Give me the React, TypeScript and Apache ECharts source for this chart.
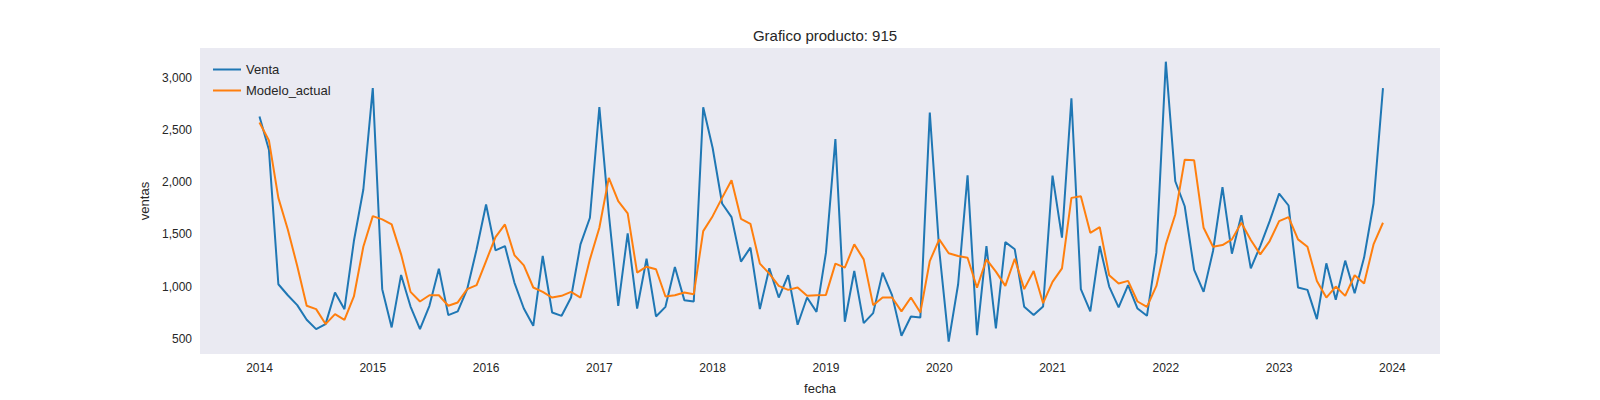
import { useEffect, useRef } from "react";
import * as echarts from "echarts";

const startYear = 2014;
const yearTicks = [2014, 2015, 2016, 2017, 2018, 2019, 2020, 2021, 2022, 2023, 2024];
const ventasTicks = [500, 1000, 1500, 2000, 2500, 3000];

// monthly values, Jan 2014 .. Dec 2023
const venta = [
  2628, 2311, 1024, 919, 824, 684, 595, 643, 945, 786, 1437, 1930,
  2899, 977, 611, 1113, 811, 595, 818, 1173, 729, 764, 977, 1358,
  1787, 1348, 1389, 1040, 792, 627, 1294, 754, 722, 897, 1405, 1660,
  2717, 1700, 818, 1510, 792, 1268, 716, 808, 1189, 872, 859, 2717,
  2327, 1796, 1666, 1240, 1374, 786, 1176, 897, 1110, 637, 897, 760,
  1326, 2412, 665, 1151, 652, 748, 1135, 920, 532, 716, 706, 2666,
  1350, 475, 1024, 2065, 538, 1389, 602, 1427, 1358, 808, 729, 811,
  2063, 1469, 2803, 977, 764, 1389, 1002, 802, 1015, 792, 722, 1326,
  3152, 2009, 1770, 1161, 951, 1342, 1952, 1316, 1685, 1176, 1389, 1627,
  1891, 1777, 993, 970, 690, 1224, 875, 1250, 938, 1279, 1796, 2899,
];

const modeloActual = [
  2571, 2399, 1850, 1548, 1199, 818, 786, 643, 738, 684, 907, 1383,
  1675, 1644, 1596, 1310, 951, 859, 919, 919, 818, 850, 977, 1015,
  1246, 1475, 1596, 1303, 1205, 993, 951, 897, 913, 951, 897, 1262,
  1564, 2041, 1818, 1701, 1135, 1192, 1167, 907, 919, 945, 929, 1532,
  1675, 1850, 2019, 1650, 1602, 1221, 1126, 1008, 970, 993, 913, 919,
  922, 1221, 1183, 1405, 1262, 824, 897, 897, 764, 897, 754, 1246,
  1453, 1320, 1294, 1278, 990, 1262, 1145, 1008, 1268, 977, 1151, 843,
  1046, 1176, 1850, 1866, 1516, 1570, 1110, 1031, 1056, 859, 808, 1008,
  1405, 1691, 2215, 2209, 1564, 1383, 1399, 1453, 1612, 1447, 1310, 1437,
  1627, 1666, 1453, 1383, 1056, 897, 1002, 913, 1110, 1031, 1405, 1612,
];

const toPoints = (vals: number[]) => vals.map((v, i) => [startYear + i / 12, v]);

function App() {
  const chartRef = useRef<HTMLDivElement>(null);

  useEffect(() => {
    document.body.style.margin = "0";
    const chart = echarts.init(chartRef.current, null, { renderer: "svg" });
    const font = "Liberation Sans, Arial, sans-serif";
    const textColor = "#262626";

    chart.setOption({
      animation: false,
      backgroundColor: "#ffffff",
      textStyle: { fontFamily: font },
      title: {
        text: "Grafico producto: 915",
        left: 820,
        textAlign: "center",
        top: 23,
        textStyle: { fontSize: 15, fontWeight: "normal", color: textColor, fontFamily: font },
      },
      legend: {
        orient: "vertical",
        left: 208,
        top: 58,
        itemGap: 8,
        itemWidth: 28,
        itemHeight: 2,
        icon: "rect",
        textStyle: { fontSize: 13, color: textColor, fontFamily: font },
        data: ["Venta", "Modelo_actual"],
      },
      grid: {
        left: 200,
        right: 160,
        top: 48,
        bottom: 44,
        show: true,
        backgroundColor: "#eaeaf2",
        borderWidth: 0,
      },
      xAxis: {
        type: "value",
        min: 2013.475,
        max: 2024.42,
        name: "fecha",
        nameLocation: "middle",
        nameGap: 28,
        nameTextStyle: { fontSize: 13, color: textColor },
        axisLine: { show: false },
        axisTick: { show: false, customValues: yearTicks },
        splitLine: { show: false },
        axisLabel: {
          customValues: yearTicks,
          fontSize: 12,
          color: textColor,
          margin: 8,
          formatter: (v: number) => String(Math.round(v)),
        },
      },
      yAxis: {
        type: "value",
        min: 357,
        max: 3283,
        name: "ventas",
        nameLocation: "middle",
        nameGap: 45,
        nameTextStyle: { fontSize: 13, color: textColor },
        axisLine: { show: false },
        axisTick: { show: false, customValues: ventasTicks },
        splitLine: { show: false },
        axisLabel: { customValues: ventasTicks, fontSize: 12, color: textColor, margin: 8 },
      },
      series: [
        {
          name: "Venta",
          type: "line",
          data: toPoints(venta),
          showSymbol: false,
          symbol: "none",
          lineStyle: { width: 2, color: "#1f77b4" },
          itemStyle: { color: "#1f77b4" },
        },
        {
          name: "Modelo_actual",
          type: "line",
          data: toPoints(modeloActual),
          showSymbol: false,
          symbol: "none",
          lineStyle: { width: 2, color: "#ff7f0e" },
          itemStyle: { color: "#ff7f0e" },
        },
      ],
    });

    return () => {
      chart.dispose();
    };
  }, []);

  return <div ref={chartRef} style={{ width: 1600, height: 400 }} />;
}

export default App;
